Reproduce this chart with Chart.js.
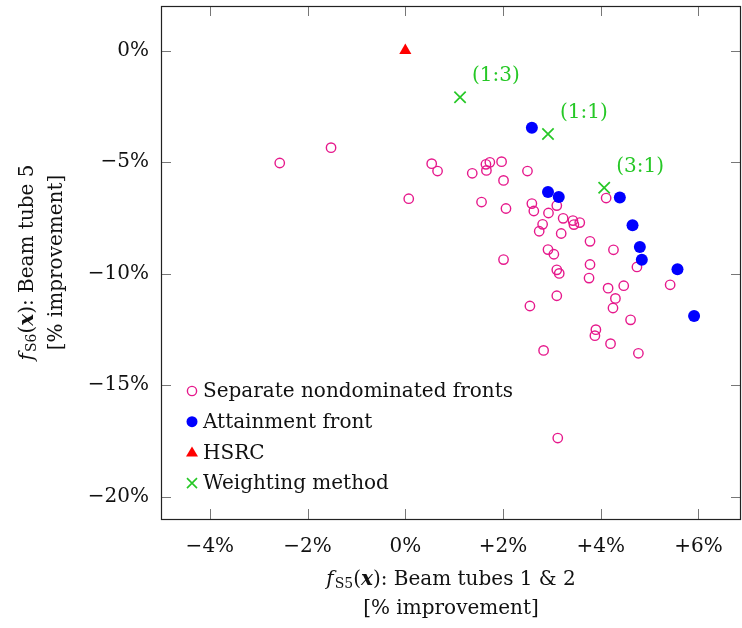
<!DOCTYPE html>
<html>
<head>
<meta charset="utf-8">
<title>Beam tube fronts</title>
<script src="https://cdn.jsdelivr.net/npm/chart.js@4.4.0/dist/chart.umd.min.js"></script>
<style>
body { margin: 0; background: #fff; }
#wrap { width: 742px; height: 628px; }
</style>
</head>
<body>
<div id="wrap"><canvas id="frontChart"></canvas></div>
<script>
// values in % improvement, x = f_S5 (beam tubes 1 & 2), y = f_S6 (beam tube 5)
const sepX = [-2.57, -1.52, 0.07, 0.54, 0.66, 1.37, 1.65, 1.73, 1.66, 1.97, 2.01, 2.50,
  1.56, 2.06, 2.59, 2.63, 2.93, 2.81, 2.74, 2.01, 2.92, 3.04, 3.10, 3.15, 4.11, 3.10,
  3.23, 3.43, 3.45, 3.57, 3.19, 3.78, 4.26, 3.78, 4.74, 3.76, 4.15, 4.47, 5.42, 3.10,
  2.55, 4.30, 4.25, 4.61, 3.90, 3.88, 4.20, 4.77, 2.83, 3.12];
const sepY = [-5.04, -4.35, -6.64, -5.07, -5.40, -5.50, -5.10, -5.01, -5.37, -4.98, -5.82, -5.40,
  -6.79, -7.08, -6.86, -7.19, -7.28, -7.79, -8.10, -9.37, -8.92, -9.13, -9.83, -9.99, -6.61, -6.95,
  -7.52, -7.62, -7.80, -7.71, -8.20, -8.55, -8.93, -9.59, -9.70, -10.20, -10.65, -10.54, -10.50, -10.99,
  -11.45, -11.11, -11.54, -12.07, -12.51, -12.78, -13.14, -13.57, -13.44, -17.37];
const attX = [2.59, 2.92, 3.14, 4.39, 4.65, 4.80, 4.84, 5.57, 5.91];
const attY = [-3.46, -6.34, -6.56, -6.59, -7.83, -8.80, -9.38, -9.80, -11.90];
const hsrcX = [0];
const hsrcY = [0];
const wX = [1.12, 2.92, 4.07];
const wY = [-2.09, -3.74, -6.15];
const wLabels = ['(1:3)', '(1:1)', '(3:1)'];
const xTickVals = [-4, -2, 0, 2, 4, 6];
const yTickVals = [-20, -15, -10, -5, 0];

const SERIF = '"DejaVu Serif", "Liberation Serif", serif';
const FS = 20;
const PINK = '#e6198c';
const BLUE = '#0000ff';
const RED = '#ff0000';
const GREEN = '#26c826';

function pts(xs, ys) {
  return xs.map((x, i) => ({ x: x, y: ys[i] }));
}

function pct(v, plus) {
  if (v === 0) return '0%';
  if (v < 0) return '\u2212' + Math.abs(v) + '%';
  return (plus ? '+' : '') + v + '%';
}

// draw a line of mixed fonts (italic f, subscript, bold x ...) centred on cx
function richText(ctx, parts, cx, cy, size) {
  let total = 0;
  const fontOf = p => (p.it ? 'italic ' : '') + (p.bold ? 'bold ' : '') +
    (p.sub ? Math.round(size * 0.7) : size) + 'px ' + SERIF;
  parts.forEach(p => { ctx.font = fontOf(p); p.w = ctx.measureText(p.t).width + (p.gap || 0); total += p.w; });
  let x = cx - total / 2;
  parts.forEach(p => {
    ctx.font = fontOf(p);
    ctx.fillText(p.t, x, cy + (p.sub ? size * 0.22 : 0));
    x += p.w;
  });
}

// keep the plot box where the reference has it
function noPad(s) {
  s.paddingTop = 0; s.paddingBottom = 0; s.paddingLeft = 0; s.paddingRight = 0;
}

const framePlugin = {
  id: 'frame',
  afterDraw(chart) {
    const ctx = chart.ctx;
    const a = chart.chartArea;
    const xs = chart.scales.x, ys = chart.scales.y;
    ctx.save();
    // inner tick marks on all four sides
    ctx.strokeStyle = '#777';
    ctx.lineWidth = 1;
    ctx.beginPath();
    xTickVals.forEach(v => {
      const px = Math.round(xs.getPixelForValue(v)) + 0.5;
      ctx.moveTo(px, a.bottom); ctx.lineTo(px, a.bottom - 10);
      ctx.moveTo(px, a.top); ctx.lineTo(px, a.top + 10);
    });
    yTickVals.forEach(v => {
      const py = Math.round(ys.getPixelForValue(v)) + 0.5;
      ctx.moveTo(a.left, py); ctx.lineTo(a.left + 10, py);
      ctx.moveTo(a.right, py); ctx.lineTo(a.right - 10, py);
    });
    ctx.stroke();
    // axis box
    ctx.strokeStyle = '#222';
    ctx.lineWidth = 1.2;
    ctx.strokeRect(a.left + 0.5, a.top + 0.5, a.right - a.left - 1, a.bottom - a.top);

    // weighting labels
    ctx.fillStyle = GREEN;
    ctx.font = FS + 'px ' + SERIF;
    ctx.textAlign = 'left';
    ctx.textBaseline = 'middle';
    wLabels.forEach((t, i) => {
      ctx.fillText(t, xs.getPixelForValue(wX[i]) + 12, ys.getPixelForValue(wY[i]) - 21);
    });

    // legend, lower left inside the axes
    const rows = [
      { label: 'Separate nondominated fronts', kind: 'ring' },
      { label: 'Attainment front', kind: 'dot' },
      { label: 'HSRC', kind: 'tri' },
      { label: 'Weighting method', kind: 'cross' }
    ];
    const mx = a.left + 31, tx = a.left + 42;
    rows.forEach((r, i) => {
      const y = 391 + i * 30.7;
      ctx.beginPath();
      if (r.kind === 'ring') {
        ctx.strokeStyle = PINK; ctx.lineWidth = 1.4;
        ctx.arc(mx, y, 4.6, 0, Math.PI * 2); ctx.stroke();
      } else if (r.kind === 'dot') {
        ctx.fillStyle = BLUE;
        ctx.arc(mx, y, 5.5, 0, Math.PI * 2); ctx.fill();
      } else if (r.kind === 'tri') {
        ctx.fillStyle = RED;
        ctx.moveTo(mx, y - 6); ctx.lineTo(mx + 6, y + 4); ctx.lineTo(mx - 6, y + 4);
        ctx.closePath(); ctx.fill();
      } else {
        ctx.strokeStyle = GREEN; ctx.lineWidth = 1.6;
        ctx.moveTo(mx - 5, y - 5); ctx.lineTo(mx + 5, y + 5);
        ctx.moveTo(mx + 5, y - 5); ctx.lineTo(mx - 5, y + 5); ctx.stroke();
      }
      ctx.fillStyle = '#111';
      ctx.font = FS + 'px ' + SERIF;
      ctx.fillText(r.label, tx, y + 1);
    });

    // axis titles
    ctx.fillStyle = '#111';
    ctx.textAlign = 'left';
    const cx = (a.left + a.right) / 2;
    richText(ctx, [{ t: 'f', it: true, gap: 1 }, { t: 'S5', sub: true }, { t: '(' }, { t: 'x', it: true, bold: true },
      { t: '): Beam tubes 1 & 2' }], cx, 580, FS);
    richText(ctx, [{ t: '[% improvement]' }], cx, 609, FS);
    ctx.translate(0, (a.top + a.bottom) / 2);
    ctx.rotate(-Math.PI / 2);
    richText(ctx, [{ t: 'f', it: true, gap: 1 }, { t: 'S6', sub: true }, { t: '(' }, { t: 'x', it: true, bold: true },
      { t: '): Beam tube 5' }], 0, 28, FS);
    richText(ctx, [{ t: '[% improvement]' }], 0, 57, FS);
    ctx.restore();
  }
};

const ctx = document.getElementById('frontChart').getContext('2d');
new Chart(ctx, {
  type: 'scatter',
  data: {
    datasets: [
      {
        label: 'Separate nondominated fronts',
        data: pts(sepX, sepY),
        pointStyle: 'circle',
        pointRadius: 4.7,
        borderWidth: 1.4,
        borderColor: PINK,
        backgroundColor: 'rgba(0,0,0,0)',
        order: 4
      },
      {
        label: 'Attainment front',
        data: pts(attX, attY),
        pointStyle: 'circle',
        pointRadius: 6,
        borderWidth: 0,
        borderColor: BLUE,
        backgroundColor: BLUE,
        order: 3
      },
      {
        label: 'HSRC',
        data: pts(hsrcX, hsrcY),
        pointStyle: 'triangle',
        pointRadius: 7,
        borderWidth: 0,
        borderColor: RED,
        backgroundColor: RED,
        order: 2
      },
      {
        label: 'Weighting method',
        data: pts(wX, wY),
        pointStyle: 'crossRot',
        pointRadius: 8,
        borderWidth: 1.7,
        borderColor: GREEN,
        backgroundColor: GREEN,
        order: 1
      }
    ]
  },
  options: {
    responsive: true,
    maintainAspectRatio: false,
    animation: false,
    events: [],
    layout: { autoPadding: false, padding: { top: 6, right: 1, left: 0, bottom: 0 } },
    plugins: { legend: { display: false }, tooltip: { enabled: false } },
    scales: {
      x: {
        min: -5,
        max: 6.87,
        grid: { display: false, drawTicks: false },
        border: { display: false },
        afterBuildTicks: s => { s.ticks = xTickVals.map(v => ({ value: v })); },
        afterFit: s => { s.height = 109; noPad(s); },
        ticks: {
          padding: 16,
          color: '#111',
          font: { family: SERIF, size: FS },
          maxRotation: 0,
          callback: v => pct(v, true)
        }
      },
      y: {
        min: -21,
        max: 2,
        grid: { display: false, drawTicks: false },
        border: { display: false },
        afterBuildTicks: s => { s.ticks = yTickVals.map(v => ({ value: v })); },
        afterFit: s => { s.width = 161; noPad(s); },
        ticks: {
          padding: 12,
          color: '#111',
          font: { family: SERIF, size: FS },
          callback: v => pct(v, false)
        }
      }
    }
  },
  plugins: [framePlugin]
});
</script>
</body>
</html>
